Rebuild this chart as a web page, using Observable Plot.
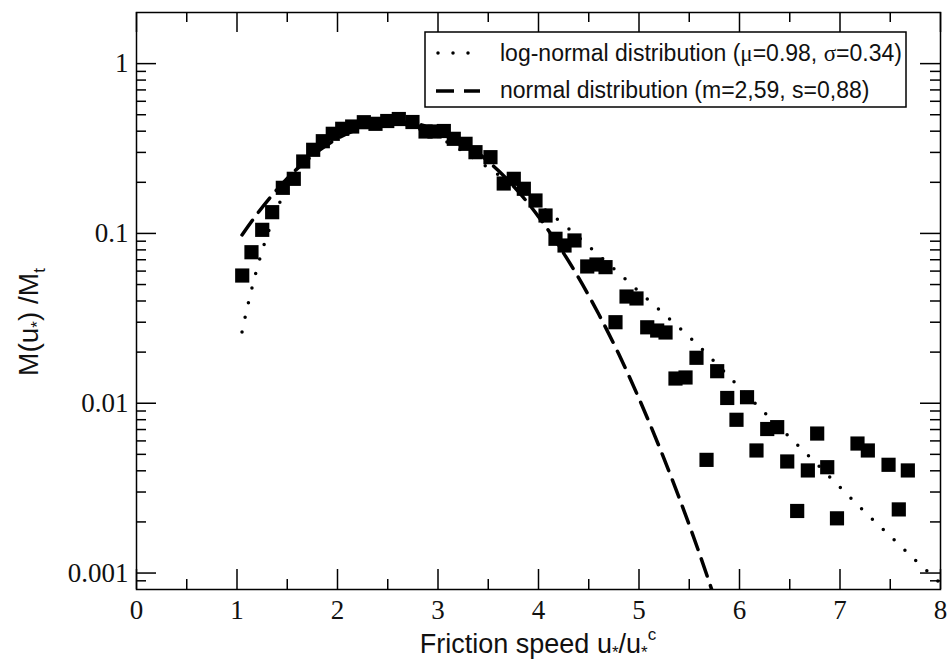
<!DOCTYPE html>
<html><head><meta charset="utf-8">
<script src="https://cdn.jsdelivr.net/npm/d3@7"></script>
<script src="https://cdn.jsdelivr.net/npm/@observablehq/plot@0.6"></script>
<style>
html,body{margin:0;padding:0;background:#fff;}
#chart svg{display:block;}
.serif-tick text{font-family:"Liberation Serif","Times New Roman",serif !important;}
</style>
</head><body><div id="chart"></div>
<script>
// measured mass flux distribution (squares)
const pointX = [1.052,1.144,1.251,1.350,1.456,1.565,1.659,1.758,1.854,1.953,2.047,2.146,2.262,2.378,2.495,2.610,2.746,2.876,2.965,3.058,3.157,3.274,3.373,3.522,3.654,3.754,3.854,3.970,4.070,4.169,4.259,4.358,4.485,4.577,4.667,4.766,4.876,4.975,5.082,5.181,5.264,5.363,5.463,5.572,5.672,5.778,5.878,5.970,6.075,6.169,6.276,6.375,6.475,6.574,6.680,6.773,6.873,6.970,7.174,7.277,7.483,7.585,7.675];
const pointY = [0.0565,0.0775,0.1050,0.1334,0.1856,0.2097,0.2652,0.3108,0.3492,0.3861,0.4132,0.4262,0.4518,0.4421,0.4592,0.4718,0.4530,0.3983,0.3983,0.4010,0.3607,0.3371,0.3009,0.2812,0.1968,0.2097,0.1832,0.1563,0.1275,0.0930,0.0849,0.0909,0.0639,0.0656,0.0633,0.0300,0.0425,0.0414,0.0280,0.0268,0.0261,0.01398,0.01418,0.01852,0.00464,0.01544,0.01074,0.00799,0.01085,0.00527,0.00705,0.00723,0.00454,0.00232,0.00402,0.00663,0.0042,0.0021,0.00579,0.00527,0.00434,0.00237,0.00402];
// log-normal fit (dotted)
const logNormalX = [1.05,1.1,1.2,1.3,1.4,1.5,1.6,1.8,2.0,2.2,2.4,2.6,2.8,3.0,3.2,3.4,3.6,3.8,4.0,4.25,4.5,4.75,5.0,5.25,5.5,5.75,6.0,6.25,6.5,6.75,7.0,7.25,7.5,7.75,8.0];
const logNormalY = [0.0263,0.0361,0.0624,0.0973,0.140,0.188,0.238,0.335,0.411,0.455,0.466,0.450,0.415,0.368,0.317,0.267,0.222,0.182,0.148,0.113,0.0840,0.0620,0.0455,0.0335,0.0246,0.0176,0.0124,0.0088,0.0063,0.0045,0.0032,0.00228,0.00165,0.00119,0.00087];
// normal fit (dashed)
const normalX = [1.05,1.2,1.4,1.6,1.8,2.0,2.2,2.4,2.6,2.8,3.0,3.2,3.4,3.6,3.8,4.0,4.2,4.4,4.6,4.8,5.0,5.2,5.4,5.6,5.8];
const normalY = [0.0980,0.1302,0.1817,0.2408,0.3030,0.3621,0.4109,0.4429,0.4533,0.4406,0.4067,0.3565,0.2968,0.2346,0.1762,0.1256,0.0850,0.0547,0.0334,0.0194,0.01066,0.00557,0.00277,0.00131,0.000585];

const xTicks = [0,1,2,3,4,5,6,7,8];
const xTickLabels = ["0","1","2","3","4","5","6","7","8"];
const xMinorTicks = [0.5,1.5,2.5,3.5,4.5,5.5,6.5,7.5];
const yTicks = [0.001,0.01,0.1,1];
const yTickLabels = ["0.001","0.01","0.1","1"];
const yMinorTicks = [0.0009,0.002,0.003,0.004,0.005,0.006,0.007,0.008,0.009,0.02,0.03,0.04,0.05,0.06,0.07,0.08,0.09,0.2,0.3,0.4,0.5,0.6,0.7,0.8,0.9];
const legendLabels = ["log-normal distribution (", "normal distribution (m=2,59, s=0,88)"];

const W = 951, H = 667, mL = 136, mR = 11, mT = 12, mB = 78;
const fw = W - mL - mR, fh = H - mT - mB;
const points = pointX.map((x, i) => ({x, y: pointY[i]}));
const logNormal = logNormalX.map((x, i) => ({x, y: logNormalY[i]}));
const normal = normalX.map((x, i) => ({x, y: normalY[i]}));
const serif = "'Liberation Serif', 'Times New Roman', serif";
const sans = "'Liberation Sans', Arial, Helvetica, sans-serif";

const plot = Plot.plot({
  width: W, height: H,
  marginLeft: mL, marginRight: mR, marginTop: mT, marginBottom: mB,
  x: {domain: [0, 8], axis: null},
  y: {type: "log", domain: [0.0008, 2], axis: null},
  style: {background: "white", color: "black"},
  marks: [
    Plot.line(logNormal, {x: "x", y: "y", stroke: "black", strokeWidth: 3.5, strokeDasharray: "0 15", strokeLinecap: "round", curve: "catmull-rom", clip: true}),
    Plot.line(normal, {x: "x", y: "y", stroke: "black", strokeWidth: 3.5, strokeDasharray: "18 10", curve: "catmull-rom", clip: true}),
    Plot.dot(points, {x: "x", y: "y", symbol: "square", r: 8, fill: "black", stroke: "none"}),
    Plot.ruleX(xTicks, {stroke: "black", strokeWidth: 1.5, insetTop: fh - 20}),
    Plot.ruleX(xTicks, {stroke: "black", strokeWidth: 1.5, insetBottom: fh - 20}),
    Plot.ruleX(xMinorTicks, {stroke: "black", strokeWidth: 1.5, insetTop: fh - 10}),
    Plot.ruleX(xMinorTicks, {stroke: "black", strokeWidth: 1.5, insetBottom: fh - 10}),
    Plot.ruleY(yTicks, {stroke: "black", strokeWidth: 1.5, insetRight: fw - 20}),
    Plot.ruleY(yTicks, {stroke: "black", strokeWidth: 1.5, insetLeft: fw - 20}),
    Plot.ruleY(yMinorTicks, {stroke: "black", strokeWidth: 1.5, insetRight: fw - 10}),
    Plot.ruleY(yMinorTicks, {stroke: "black", strokeWidth: 1.5, insetLeft: fw - 10}),
    Plot.frame({stroke: "black", strokeWidth: 1.5}),
    Plot.text(xTicks, {x: d => d, frameAnchor: "bottom", dy: 21, text: (d, i) => xTickLabels[i], fontFamily: serif, fontSize: 27, fill: "#111", lineAnchor: "middle", className: "serif-tick"}),
    Plot.text(yTicks, {y: d => d, frameAnchor: "left", dx: -8, textAnchor: "end", text: (d, i) => yTickLabels[i], fontFamily: serif, fontSize: 27, fill: "#111", lineAnchor: "middle", className: "serif-tick"})
  ]
});

const svg = d3.select(plot);
// legend
const lg = svg.append("g").attr("text-anchor", "start");
lg.append("rect").attr("x", 425).attr("y", 32).attr("width", 481).attr("height", 75)
  .attr("fill", "white").attr("stroke", "black").attr("stroke-width", 1.5);
lg.append("line").attr("x1", 438).attr("x2", 470).attr("y1", 53).attr("y2", 53)
  .attr("stroke", "black").attr("stroke-width", 3.5).attr("stroke-dasharray", "0 15").attr("stroke-linecap", "round");
lg.append("line").attr("x1", 436).attr("x2", 480).attr("y1", 91).attr("y2", 91)
  .attr("stroke", "black").attr("stroke-width", 3.5).attr("stroke-dasharray", "18 10");
const t1 = lg.append("text").attr("x", 500).attr("y", 61).attr("text-anchor", "start").attr("font-family", sans).attr("font-size", 23).attr("fill", "#111");
t1.append("tspan").text(legendLabels[0]);
t1.append("tspan").attr("font-family", serif).text("μ");
t1.append("tspan").text("=0.98, ");
t1.append("tspan").attr("font-family", serif).text("σ");
t1.append("tspan").text("=0.34)");
lg.append("text").attr("x", 500).attr("y", 98).attr("text-anchor", "start").attr("font-family", sans).attr("font-size", 23).attr("fill", "#111").text(legendLabels[1]);

// x axis label
const xl = svg.append("text").attr("x", mL + fw / 2).attr("y", 653).attr("text-anchor", "middle")
  .attr("font-family", sans).attr("font-size", 27).attr("fill", "#111");
xl.append("tspan").text("Friction speed u");
xl.append("tspan").attr("font-size", 17).attr("dy", 5).text("*");
xl.append("tspan").attr("dy", -5).text("/u");
xl.append("tspan").attr("font-size", 17).attr("dy", 5).text("*");
xl.append("tspan").attr("font-size", 17).attr("dy", -18).text("c");

// y axis label
const yl = svg.append("text").attr("transform", "translate(38,322) rotate(-90)").attr("text-anchor", "middle")
  .attr("font-family", sans).attr("font-size", 28).attr("fill", "#111");
yl.append("tspan").text("M(u");
yl.append("tspan").attr("font-size", 17).attr("dy", 5).text("*");
yl.append("tspan").attr("dy", -5).text(") /M");
yl.append("tspan").attr("font-size", 17).attr("dy", 7).text("t");

document.getElementById("chart").appendChild(plot);
</script>
</body></html>
